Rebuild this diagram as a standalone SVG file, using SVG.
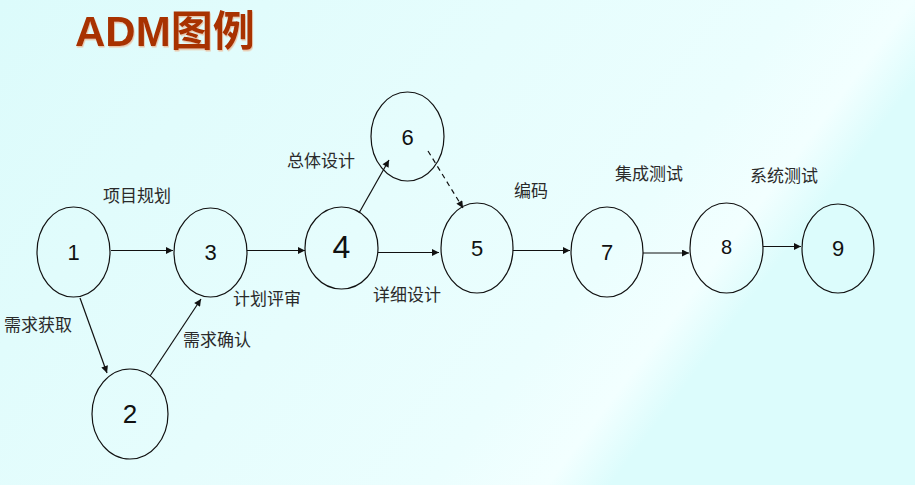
<svg xmlns="http://www.w3.org/2000/svg" width="915" height="485" viewBox="0 0 915 485">
<defs>
<linearGradient id="bg" x1="0" y1="0" x2="1" y2="0.4">
<stop offset="0" stop-color="#dcfbfb"/>
<stop offset="0.75" stop-color="#ebfefe"/>
<stop offset="0.86" stop-color="#f2ffff"/>
<stop offset="0.92" stop-color="#dcfcfc"/>
</linearGradient>
<marker id="ah" viewBox="0 0 10 10" refX="10" refY="5" markerWidth="9" markerHeight="7" markerUnits="userSpaceOnUse" orient="auto">
<path d="M0,0 L10,5 L0,10 Z" fill="#111"/>
</marker>
<filter id="sh" x="-5%" y="-5%" width="110%" height="120%">
<feDropShadow dx="0.8" dy="1.5" stdDeviation="0.4" flood-color="#f0a070" flood-opacity="0.6"/>
</filter>
</defs>
<style>
.n{fill:none;stroke:#111;stroke-width:1.2}
.d{font-family:"Liberation Sans","DejaVu Sans",sans-serif;font-size:22px;fill:#111;text-anchor:middle;dominant-baseline:central}
.big{font-size:32px}
.mid{font-size:26px}
.sm{font-size:20px}
.l{font-family:"Noto Sans CJK SC","Liberation Sans",sans-serif;font-size:17px;fill:#2a2a2a;dominant-baseline:central}
.c{stroke:#111;stroke-width:1.2;fill:none;marker-end:url(#ah)}
</style>
<rect width="915" height="485" fill="url(#bg)"/>
<text x="75" y="46" font-family="'Liberation Sans','Noto Sans CJK SC',sans-serif" font-weight="bold" font-size="42" fill="#a83300" filter="url(#sh)">ADM图例</text>
<g id="connectors">
<line class="c" x1="111" y1="250.5" x2="173" y2="250.5"/>
<line class="c" x1="247" y1="250.5" x2="305" y2="250.5"/>
<line class="c" x1="378" y1="252.5" x2="439" y2="252.5"/>
<line class="c" x1="359" y1="213" x2="389" y2="160"/>
<line class="c" x1="428" y1="151" x2="463" y2="208" stroke-dasharray="5,4"/>
<line class="c" x1="513" y1="250.5" x2="570" y2="250.5"/>
<line class="c" x1="643" y1="253" x2="689" y2="253"/>
<line class="c" x1="763" y1="246.5" x2="801" y2="246.5"/>
<line class="c" x1="80" y1="298" x2="107" y2="373"/>
<line class="c" x1="150" y1="376" x2="201" y2="299"/>
</g>
<g id="node1"><ellipse class="n" cx="73.5" cy="252" rx="36.5" ry="45"/><text class="d" x="73.5" y="252">1</text></g>
<g id="node2"><ellipse class="n" cx="130" cy="414" rx="38" ry="45"/><text class="d mid" x="130" y="414">2</text></g>
<g id="node3"><ellipse class="n" cx="210.5" cy="252.5" rx="36.5" ry="44.5"/><text class="d" x="210.5" y="252">3</text></g>
<g id="node4"><ellipse class="n" cx="341.5" cy="248" rx="36.5" ry="41"/><text class="d big" x="341.5" y="247">4</text></g>
<g id="node5"><ellipse class="n" cx="477" cy="248" rx="36" ry="45"/><text class="d" x="477" y="248">5</text></g>
<g id="node6"><ellipse class="n" cx="407.5" cy="136.5" rx="36.5" ry="44.5"/><text class="d" x="407.5" y="137">6</text></g>
<g id="node7"><ellipse class="n" cx="607" cy="252" rx="36" ry="45"/><text class="d" x="607" y="252">7</text></g>
<g id="node8"><ellipse class="n" cx="726.5" cy="248" rx="36.5" ry="45"/><text class="d sm" x="726.5" y="247">8</text></g>
<g id="node9"><ellipse class="n" cx="838" cy="248.5" rx="36" ry="44.5"/><text class="d" x="838" y="248">9</text></g>
<g id="labels">
<text class="l" x="103" y="194">项目规划</text>
<text class="l" x="4" y="323">需求获取</text>
<text class="l" x="233" y="297">计划评审</text>
<text class="l" x="183" y="338">需求确认</text>
<text class="l" x="287" y="159">总体设计</text>
<text class="l" x="373" y="293">详细设计</text>
<text class="l" x="514" y="189">编码</text>
<text class="l" x="615" y="172">集成测试</text>
<text class="l" x="750" y="174">系统测试</text>
</g>
</svg>
